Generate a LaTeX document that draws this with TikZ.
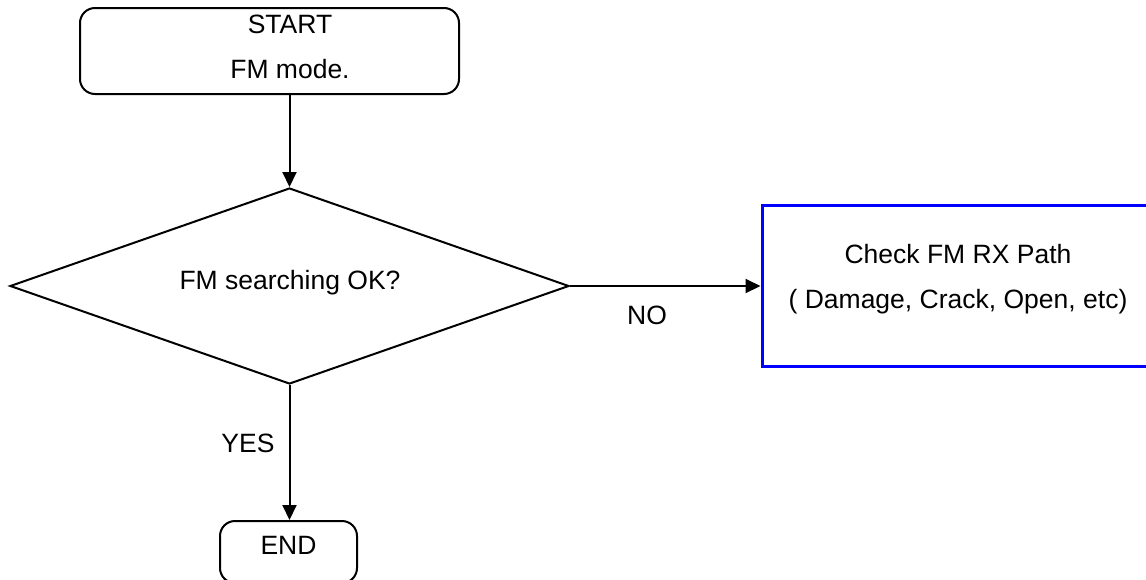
\documentclass[tikz,border=0pt]{standalone}
\usepackage{fontspec}
\setmainfont{Liberation Sans}
\usetikzlibrary{shapes.geometric,arrows.meta}
\begin{document}
\begin{tikzpicture}[x=1pt,y=-1pt,
  every node/.style={font=\fontsize{26.5}{45}\selectfont},
  termbox/.style={draw=black,line width=2pt,rounded corners=15pt,inner sep=0pt},
  decbox/.style={draw=black,line width=2pt,shape=diamond,inner sep=0pt},
  procbox/.style={draw=blue,line width=3pt,inner sep=0pt},
  flow/.style={draw=black,line width=2pt,-{Triangle[length=15pt,width=14pt]}},
  lbl/.style={inner sep=0pt}]
\useasboundingbox (0,0) rectangle (1146,579);
\clip (0,0) rectangle (1146,579);
\node[termbox,minimum width=379pt,minimum height=86pt] (start) at (269.5,51) {};
\node[lbl,align=center] (starttext) at (290,47) {START\\FM mode.};
\node[decbox,minimum width=559pt,minimum height=196pt] (dec) at (289.5,286) {};
\node[lbl] (dectext) at (290,283) {FM searching OK?};
\node[procbox,minimum width=392pt,minimum height=161pt] (chk) at (958,285.5) {};
\node[lbl,align=center] (chktext) at (958,279.5) {Check FM RX Path\\( Damage, Crack, Open, etc)};
\node[termbox,minimum width=137pt,minimum height=62pt] (end) at (288.5,552) {};
\node[lbl] (endtext) at (288.5,545) {END};
\draw[flow] (start.south -| dec.north) -- (dec.north);
\draw[flow] (dec.east) -- (dec.east -| chk.west);
\draw[flow] (dec.south) -- (dec.south |- end.north);
\node[lbl] (no) at (647,315) {NO};
\node[lbl] (yes) at (248,443) {YES};
\end{tikzpicture}
\end{document}
